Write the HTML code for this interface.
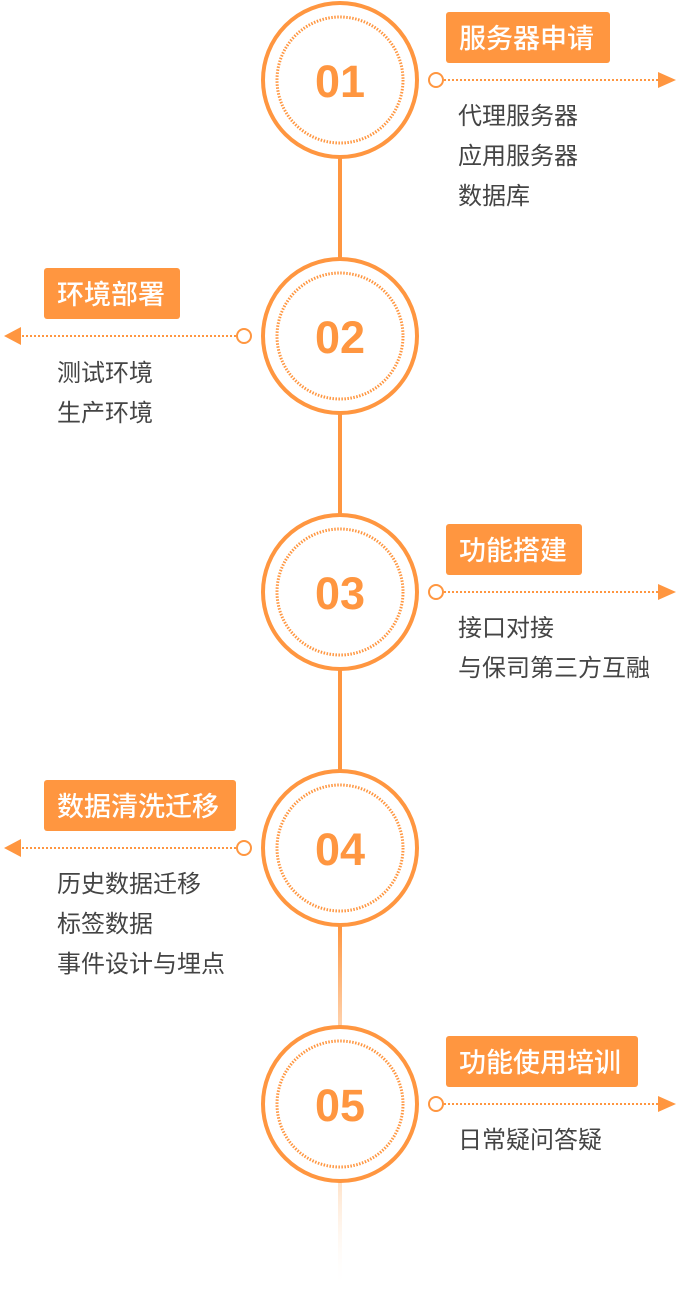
<!DOCTYPE html>
<html><head><meta charset="utf-8"><style>
body{margin:0;background:#fff;width:678px;height:1296px;overflow:hidden}
svg{display:block}
.num{font-family:"Liberation Sans",sans-serif;font-weight:bold;font-size:45px;fill:#ff9640}
.lab{font-family:"Liberation Sans","Noto Sans CJK SC",sans-serif;font-size:27px;font-weight:500;fill:#fff}
.it{font-family:"Liberation Sans","Noto Sans CJK SC",sans-serif;font-size:24px;fill:#444}
</style></head><body>
<svg width="678" height="1296" viewBox="0 0 678 1296">
<defs>
<linearGradient id="g1" x1="0" y1="0" x2="0" y2="1"><stop offset="0" stop-color="#ff9640"/><stop offset="1" stop-color="#ffd2ad"/></linearGradient>
<linearGradient id="g2" x1="0" y1="0" x2="0" y2="1"><stop offset="0" stop-color="#ffe2c8"/><stop offset="1" stop-color="#fff" stop-opacity="0"/></linearGradient>
</defs>
<g stroke="#ff9640" stroke-width="4">
<line x1="340" y1="158" x2="340" y2="258"/>
<line x1="340" y1="414" x2="340" y2="514"/>
<line x1="340" y1="670" x2="340" y2="770"/>
</g>
<rect x="338" y="926" width="4" height="100" fill="url(#g1)"/>
<rect x="338" y="1182" width="4" height="108" fill="url(#g2)"/>
<g fill="#fff" stroke="#ff9640">
<circle cx="340" cy="80" r="77" stroke-width="4"/>
<circle cx="340" cy="336" r="77" stroke-width="4"/>
<circle cx="340" cy="592" r="77" stroke-width="4"/>
<circle cx="340" cy="848" r="77" stroke-width="4"/>
<circle cx="340" cy="1104" r="77" stroke-width="4"/>
</g>
<g fill="none" stroke="#ff9640" stroke-width="3" stroke-dasharray="1.5 1.5">
<circle cx="340" cy="80" r="63"/>
<circle cx="340" cy="336" r="63"/>
<circle cx="340" cy="592" r="63"/>
<circle cx="340" cy="848" r="63"/>
<circle cx="340" cy="1104" r="63"/>
</g>
<g text-anchor="middle">
<text class="num" x="340" y="97">01</text>
<text class="num" x="340" y="353">02</text>
<text class="num" x="340" y="609">03</text>
<text class="num" x="340" y="865">04</text>
<text class="num" x="340" y="1121">05</text>
</g>
<g stroke="#ff9640" stroke-width="2" fill="#fff">
<circle cx="436" cy="80" r="7"/><circle cx="436" cy="592" r="7"/><circle cx="436" cy="1104" r="7"/>
<circle cx="244" cy="336" r="7"/><circle cx="244" cy="848" r="7"/>
</g>
<g stroke="#ff9640" stroke-width="2" stroke-dasharray="2 2">
<line x1="444" y1="80" x2="660" y2="80"/><line x1="444" y1="592" x2="660" y2="592"/><line x1="444" y1="1104" x2="660" y2="1104"/>
<line x1="236" y1="336" x2="20" y2="336"/><line x1="236" y1="848" x2="20" y2="848"/>
</g>
<g fill="#ff9640">
<polygon points="658,72 676,80 658,88"/><polygon points="658,584 676,592 658,600"/><polygon points="658,1096 676,1104 658,1112"/>
<polygon points="21,327 4,336 21,345"/><polygon points="21,839 4,848 21,857"/>
<rect x="446" y="12" width="164" height="51" rx="3"/>
<rect x="44" y="268" width="136" height="51" rx="3"/>
<rect x="446" y="524" width="136" height="51" rx="3"/>
<rect x="44" y="780" width="192" height="51" rx="3"/>
<rect x="446" y="1036" width="192" height="51" rx="3"/>
</g>
<text class="lab" x="459" y="48">服务器申请</text>
<text class="lab" x="57" y="304">环境部署</text>
<text class="lab" x="459" y="560">功能搭建</text>
<text class="lab" x="57" y="816">数据清洗迁移</text>
<text class="lab" x="459" y="1072">功能使用培训</text>
<text class="it" x="458" y="124">代理服务器</text>
<text class="it" x="458" y="164">应用服务器</text>
<text class="it" x="458" y="204">数据库</text>
<text class="it" x="57" y="381">测试环境</text>
<text class="it" x="57" y="421">生产环境</text>
<text class="it" x="458" y="636">接口对接</text>
<text class="it" x="458" y="676">与保司第三方互融</text>
<text class="it" x="57" y="892">历史数据迁移</text>
<text class="it" x="57" y="932">标签数据</text>
<text class="it" x="57" y="972">事件设计与埋点</text>
<text class="it" x="458" y="1148">日常疑问答疑</text>
</svg>
</body></html>
